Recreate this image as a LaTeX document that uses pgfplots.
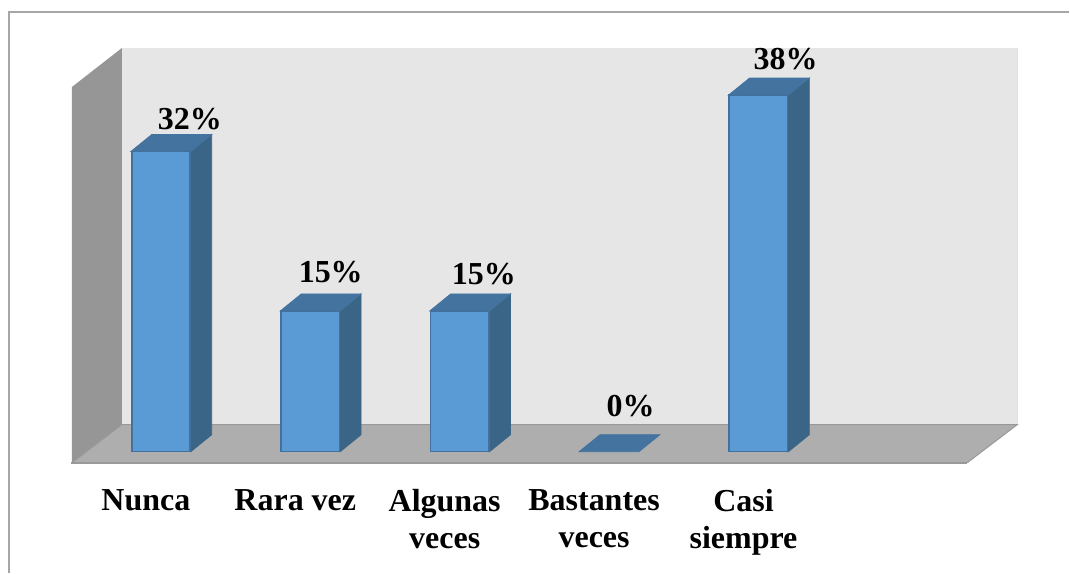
\documentclass[border=0pt]{standalone}
\usepackage{pgfplots}
\pgfplotsset{compat=1.18}
\usepackage{fontspec}
\setmainfont{Liberation Serif}
\definecolor{wall}{HTML}{E6E6E6}
\definecolor{sidewall}{HTML}{969696}
\definecolor{floorc}{HTML}{AEAEAE}
\definecolor{edgec}{HTML}{999999}
\definecolor{framec}{HTML}{A6A6A6}
\definecolor{front}{HTML}{5B9BD5}
\definecolor{frontedge}{HTML}{41719C}
\definecolor{topc}{HTML}{44739F}
\definecolor{sidec}{HTML}{3B6586}
\newcommand{\lab}{\fontsize{32}{37}\selectfont\bfseries}
\pgfplotsset{
  topface/.style={fill=topc,draw=topc,line width=0.8pt},
  sideface/.style={fill=sidec,draw=sidec,line width=0.8pt},
}
\begin{document}
\begin{tikzpicture}
\begin{axis}[
  scale only axis,
  width=1070pt,height=573pt,
  xmin=-1.0769,xmax=6.0803,
  ymin=-12.886,ymax=48.136,
  axis line style={draw=none},
  tick style={draw=none},
  ytick=\empty,
  xtick={0,1,2,3,4},
  xticklabels={Nunca,Rara vez,{Algunas\\veces},{Bastantes\\veces},{Casi\\siempre}},
  xticklabel style={align=center,anchor=north,xshift=-15pt,yshift=87pt,font=\lab},
  clip=false,
]
% frame
\addplot[draw=framec,line width=1.5pt] coordinates {(-1.017,-12.886) (-1.017,46.86) (6.0803,46.86)};
% back wall
\addplot[fill=wall,draw=none] coordinates {(-0.261,2.88) (-0.261,43.02) (5.732,43.02) (5.732,2.88)} --cycle;
\addplot[draw=black!12,line width=0.8pt] coordinates {(5.732,2.88) (5.732,43.02)};
% side wall
\addplot[fill=sidewall,draw=none] coordinates {(-0.595,-1.17) (-0.595,38.87) (-0.261,43.02) (-0.261,2.88)} --cycle;
% floor
\addplot[fill=floorc,draw=none] coordinates {(-0.595,-1.17) (-0.261,2.88) (5.732,2.88) (5.398,-1.17)} --cycle;
\addplot[draw=edgec,line width=1pt] coordinates {(-0.595,-1.17) (-0.261,2.88) (5.732,2.88) (5.398,-1.17)};
\addplot[draw=edgec,line width=2pt] coordinates {(-0.605,-1.17) (5.398,-1.17)};
% side faces
\addplot[sideface] coordinates {(0.2,0) (0.34,1.81) (0.34,33.81) (0.2,32)} --cycle;
\addplot[sideface] coordinates {(1.2,0) (1.34,1.81) (1.34,16.81) (1.2,15)} --cycle;
\addplot[sideface] coordinates {(2.2,0) (2.34,1.81) (2.34,16.81) (2.2,15)} --cycle;
\addplot[sideface] coordinates {(4.2,0) (4.34,1.81) (4.34,39.81) (4.2,38)} --cycle;
% top faces
\addplot[topface] coordinates {(-0.2,32) (0.2,32) (0.34,33.81) (-0.06,33.81)} --cycle;
\addplot[topface] coordinates {(0.8,15) (1.2,15) (1.34,16.81) (0.94,16.81)} --cycle;
\addplot[topface] coordinates {(1.8,15) (2.2,15) (2.34,16.81) (1.94,16.81)} --cycle;
\addplot[topface] coordinates {(2.8,0) (3.2,0) (3.34,1.81) (2.94,1.81)} --cycle;
\addplot[topface] coordinates {(3.8,38) (4.2,38) (4.34,39.81) (3.94,39.81)} --cycle;
% fronts
\addplot[ybar,bar width=58.4pt,bar shift=0pt,fill=front,draw=frontedge,line width=1.6pt]
  coordinates {(0,32) (1,15) (2,15) (4,38)};
% value labels
\node[font=\lab] at (axis cs:0.194,35.47) {32\%};
\node[font=\lab] at (axis cs:1.137,19.11) {15\%};
\node[font=\lab] at (axis cs:2.162,18.95) {15\%};
\node[font=\lab] at (axis cs:3.144,4.9) {0\%};
\node[font=\lab] at (axis cs:4.181,41.85) {38\%};
\end{axis}
\path (0,0) rectangle (1070pt,573pt);
\end{tikzpicture}
\end{document}
